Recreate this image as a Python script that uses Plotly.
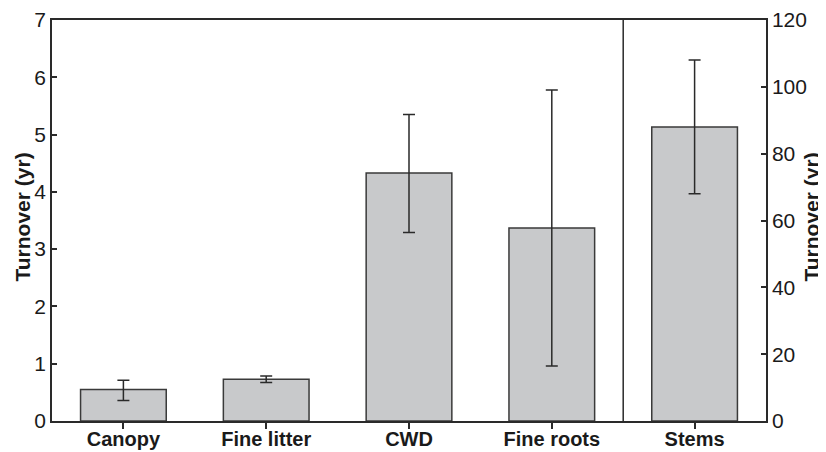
import plotly.graph_objects as go

# Left-axis components (years)
categories = ["Canopy", "Fine litter", "CWD", "Fine roots"]
turnover = [0.55, 0.73, 4.33, 3.37]
turnover_upper = [0.71, 0.785, 5.35, 5.78]
turnover_lower = [0.36, 0.67, 3.29, 0.96]

# Right-axis component (years)
stem_category = ["Stems"]
stem_turnover = [88]
stem_upper = [108]
stem_lower = [68]

all_categories = categories + stem_category
left_ticks = [0, 1, 2, 3, 4, 5, 6, 7]
right_ticks = [0, 20, 40, 60, 80, 100, 120]
y_title = "Turnover (yr)"

BAR_FILL = "#c8c9cb"
LINE = "#2a2a2a"
FONT = "Liberation Sans, Arial, sans-serif"

def err(vals, up, lo):
    return dict(type="data", symmetric=False,
                array=[u - v for u, v in zip(up, vals)],
                arrayminus=[v - l for v, l in zip(vals, lo)],
                color=LINE, thickness=1.5, width=6)

fig = go.Figure()
fig.add_trace(go.Bar(
    x=categories, y=turnover, width=0.6,
    marker=dict(color=BAR_FILL, line=dict(color="#3a3a3a", width=1.5)),
    error_y=err(turnover, turnover_upper, turnover_lower),
    yaxis="y", showlegend=False))
fig.add_trace(go.Bar(
    x=stem_category, y=stem_turnover, width=0.6,
    marker=dict(color=BAR_FILL, line=dict(color="#3a3a3a", width=1.5)),
    error_y=err(stem_turnover, stem_upper, stem_lower),
    yaxis="y2", showlegend=False))

fig.add_shape(type="line", xref="x", yref="paper", x0=3.5, x1=3.5, y0=0, y1=1,
              line=dict(color=LINE, width=1.5))

title_font = dict(family=FONT, size=21, weight="bold", color="#1a1a1a")
fig.add_annotation(text=y_title, xref="paper", yref="paper", x=0, y=0.5,
                   xshift=-30, yshift=3, textangle=-90, showarrow=False,
                   xanchor="center", yanchor="middle", font=title_font)
fig.add_annotation(text=y_title, xref="paper", yref="paper", x=1, y=0.5,
                   xshift=45, yshift=3, textangle=-90, showarrow=False,
                   xanchor="center", yanchor="middle", font=title_font)

fig.update_layout(
    width=818, height=444,
    margin=dict(l=44, r=60, t=12, b=31, autoexpand=False),
    paper_bgcolor="white", plot_bgcolor="white",
    barmode="overlay",
    font=dict(family=FONT, color="#1a1a1a", size=21),
    xaxis=dict(type="category", categoryorder="array", categoryarray=all_categories,
               range=[-0.5, 4.5], showline=True, linecolor=LINE, linewidth=1.5,
               mirror=True, ticks="outside", ticklen=6, tickwidth=1.5, tickcolor=LINE,
               ticklabelstandoff=-7,
               tickfont=dict(family=FONT, size=20, weight="bold"), showgrid=False),
    yaxis=dict(range=[0, 7], tickvals=left_ticks, showline=True, linecolor=LINE,
               linewidth=1.5, ticks="inside", ticklen=5, tickwidth=1.5, tickcolor=LINE,
               showgrid=False, zeroline=False, tickfont=dict(size=21)),
    yaxis2=dict(range=[0, 120], tickvals=right_ticks, overlaying="y", side="right",
                showline=True, linecolor=LINE, linewidth=1.5, ticks="inside",
                ticklen=5, tickwidth=1.5, tickcolor=LINE, showgrid=False,
                zeroline=False, tickfont=dict(size=21)),
)

fig.write_html("out.html")
